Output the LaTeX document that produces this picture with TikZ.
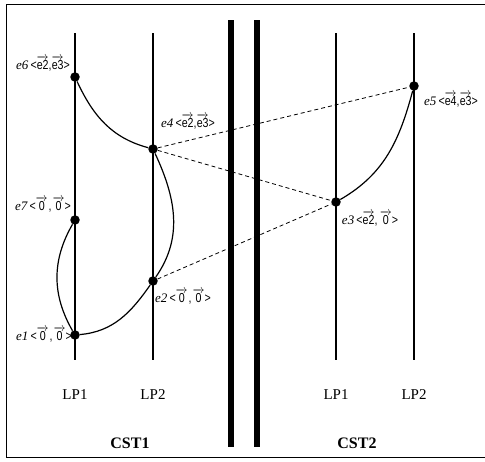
\documentclass[tikz,border=0pt]{standalone}
\usepackage{fontspec}
\setmainfont{Liberation Serif}
\newfontfamily\narrowsf[FakeStretch=0.82]{Liberation Sans}
\usepackage{amsmath}

\newcommand{\vv}[1]{\ensuremath{\overrightarrow{\hbox{\narrowsf #1}}}}
\newcommand{\evlab}[3]{{\itshape #1}\,{\narrowsf<}#2{\narrowsf ,}#3{\narrowsf>}}

\begin{document}
\begin{tikzpicture}[x=1pt,y=1pt,
  event/.style={circle,fill=black,inner sep=0pt,minimum size=9.5pt},
  elabel/.style={font=\fontsize{13}{13}\selectfont,inner sep=0pt},
  lplabel/.style={font=\fontsize{15}{15}\selectfont},
  cstlabel/.style={font=\fontsize{16}{16}\selectfont\bfseries},
  msg/.style={line width=0.8pt,dash pattern=on 4pt off 3pt},
  link/.style={line width=1.2pt}]

\useasboundingbox (0,0) rectangle (485,462);

% frame (right side cut off)
\draw[line width=1pt] (485,457) -- (6,457) -- (6,4) -- (485,4);

% process lines
\foreach \x in {75,153,336,414} \draw[line width=2.8pt] (\x,102) -- (\x,429);

% events of CST1
\node[event] (e6) at (75,385) {};
\node[event] (e4) at (153,313) {};
\node[event] (e7) at (75,242) {};
\node[event] (e2) at (153,181) {};
\node[event] (e1) at (75,127) {};
% events of CST2
\node[event] (e3) at (336,260) {};
\node[event] (e5) at (414,376) {};

\node[elabel] (l6) at (43,398) {\evlab{e6}{\vv{e2}}{\vv{e3}}};
\node[elabel] (l4) at (188,340) {\evlab{e4}{\vv{e2}}{\vv{e3}}};
\node[elabel] (l7) at (43,257) {\evlab{e7}{\vv{0}\kern1pt}{\kern1pt\vv{0}}};
\node[elabel] (l2) at (183,165) {\evlab{e2}{\vv{0}\kern1pt}{\kern1pt\vv{0}}};
\node[elabel] (l1) at (44,127) {\evlab{e1}{\vv{0}\kern1pt}{\kern1pt\vv{0}}};
\node[elabel] (l3) at (370,243) {\evlab{e3}{\vv{e2}}{\,\vv{0}}};
\node[elabel] (l5) at (451,362) {\evlab{e5}{\vv{e4}}{\vv{e3}}};

% causal links
\draw[link] (e6) to[out=-65,in=165] (e4);
\draw[link] (e4) to[out=-65,in=55] (e2);
\draw[link] (e7) to[out=-120,in=120] (e1);
\draw[link] (e1) to[out=5,in=-125] (e2);
\draw[link] (e3) to[out=30,in=-105] (e5);

% messages between the two clusters
\draw[msg] (e4) -- (e5);
\draw[msg] (e4) -- (e3);
\draw[msg] (e2) -- (e3);

% separation bars
\foreach \x in {231,257} \draw[line width=6pt] (\x,15) -- (\x,442);

\node[lplabel] (p11) at (75,67) {LP1};
\node[lplabel] (p12) at (153,67) {LP2};
\node[lplabel] (p21) at (336,67) {LP1};
\node[lplabel] (p22) at (414,67) {LP2};

\node[cstlabel] (c1) at (130,19) {CST1};
\node[cstlabel] (c2) at (357,19) {CST2};

\end{tikzpicture}
\end{document}
